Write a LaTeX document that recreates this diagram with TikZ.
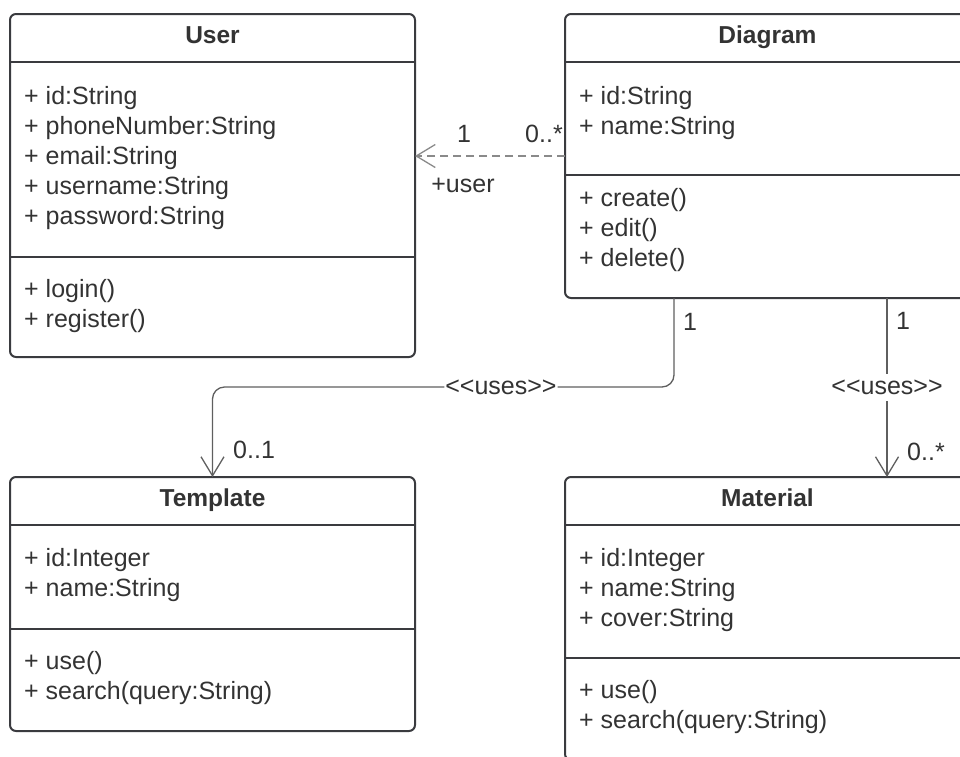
\documentclass[tikz,border=0pt]{standalone}
\usepackage{fontspec}
\setmainfont{Liberation Sans}
\usetikzlibrary{arrows.meta}
\definecolor{boxgray}{HTML}{3A3B3F}
\definecolor{textgray}{HTML}{333333}
\definecolor{linkgray}{HTML}{5F5F5F}
\definecolor{dashgray}{HTML}{8A8A8A}
\begin{document}
\begin{tikzpicture}[x=1pt, y=-1pt,
every node/.style={font=\fontsize{25}{30}\selectfont, text=textgray},
classbox/.style={draw=boxgray, line width=2pt, rounded corners=6pt, inner sep=0pt, outer sep=0pt, minimum width=405pt},
classname/.style={anchor=base, inner sep=0pt, font=\fontsize{24.5}{30}\selectfont\bfseries},
member/.style={anchor=base west, inner sep=0pt},
divider/.style={draw=boxgray, line width=2pt},
link/.style={draw=linkgray, line width=1.3pt, -{Straight Barb[length=19pt, width=23pt]}},
dependency/.style={link, draw=dashgray, dash pattern=on 8pt off 5pt},
stereo/.style={fill=white, inner xsep=1pt, inner ysep=6pt},
mult/.style={anchor=base, inner sep=0pt},
]
\useasboundingbox (0,0) rectangle (960,756);
\clip (0,0) rectangle (960,756);

% User
\node[classbox, minimum height=343pt] (user) at (212.5,185.5) {};
\node[classname] (user-name) at (212.5,43) {User};
\draw[divider] (user.west |- 0,62) -- (user.east |- 0,62);
\node[member] (user-a1) at (24,104) {+ id:String};
\node[member] (user-a2) at (24,134) {+ phoneNumber:String};
\node[member] (user-a3) at (24,164) {+ email:String};
\node[member] (user-a4) at (24,194) {+ username:String};
\node[member] (user-a5) at (24,224) {+ password:String};
\draw[divider] (user.west |- 0,257) -- (user.east |- 0,257);
\node[member] (user-m1) at (24,297) {+ login()};
\node[member] (user-m2) at (24,327) {+ register()};

% Diagram
\node[classbox, minimum height=284pt] (diagram) at (767.5,156) {};
\node[classname] (diagram-name) at (767.5,43) {Diagram};
\draw[divider] (diagram.west |- 0,62) -- (diagram.east |- 0,62);
\node[member] (diagram-a1) at (579,104) {+ id:String};
\node[member] (diagram-a2) at (579,134) {+ name:String};
\draw[divider] (diagram.west |- 0,175) -- (diagram.east |- 0,175);
\node[member] (diagram-m1) at (579,206) {+ create()};
\node[member] (diagram-m2) at (579,236) {+ edit()};
\node[member] (diagram-m3) at (579,266) {+ delete()};

% Template
\node[classbox, minimum height=254pt] (template) at (212.5,604) {};
\node[classname] (template-name) at (212.5,506) {Template};
\draw[divider] (template.west |- 0,525) -- (template.east |- 0,525);
\node[member] (template-a1) at (24,566) {+ id:Integer};
\node[member] (template-a2) at (24,596) {+ name:String};
\draw[divider] (template.west |- 0,629) -- (template.east |- 0,629);
\node[member] (template-m1) at (24,669) {+ use()};
\node[member] (template-m2) at (24,699) {+ search(query:String)};

% Material
\node[classbox, minimum height=283pt] (material) at (767.5,618.5) {};
\node[classname] (material-name) at (767.5,506) {Material};
\draw[divider] (material.west |- 0,525) -- (material.east |- 0,525);
\node[member] (material-a1) at (579,566) {+ id:Integer};
\node[member] (material-a2) at (579,596) {+ name:String};
\node[member] (material-a3) at (579,626) {+ cover:String};
\draw[divider] (material.west |- 0,658) -- (material.east |- 0,658);
\node[member] (material-m1) at (579,698) {+ use()};
\node[member] (material-m2) at (579,728) {+ search(query:String)};

% Diagram -> User
\draw[dependency] (diagram.west) -- (user.east |- diagram.west);
\node[mult] (dep-src) at (544,142) {0..*};
\node[mult] (dep-dst) at (464,142) {1};
\node[mult] (dep-role) at (463,192) {+user};

% Diagram -> Template
\draw[link, rounded corners=12pt] (diagram.south -| 674,0) -- (674,387)
  -- node[stereo, pos=0.375] (uses-t) {{<}{<}uses{>}{>}} (template.north |- 0,387) -- (template.north);
\node[mult] (uses-t-src) at (690,330) {1};
\node[mult, anchor=base west] (uses-t-dst) at (233,458) {0..1};

% Diagram -> Material
\draw[link] (diagram.south -| 887,0) -- node[stereo] (uses-m) {{<}{<}uses{>}{>}} (material.north -| 887,0);
\node[mult] (uses-m-src) at (903,329) {1};
\node[mult, anchor=base west] (uses-m-dst) at (907,460) {0..*};
\end{tikzpicture}
\end{document}
